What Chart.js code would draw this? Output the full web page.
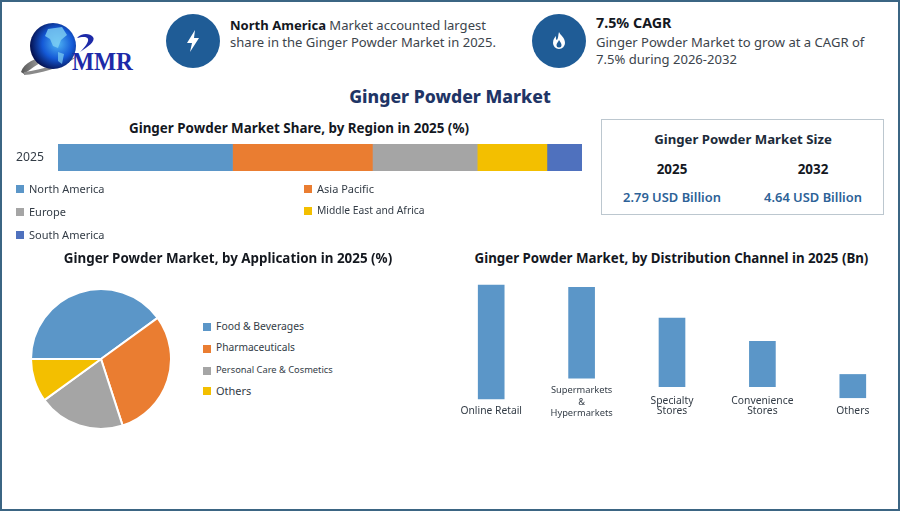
<!DOCTYPE html>
<html><head><meta charset="utf-8">
<script src="https://cdn.jsdelivr.net/npm/chart.js@4"></script>
<style>
html,body{margin:0;padding:0;background:#fff}
#page{position:relative;width:900px;height:511px;overflow:hidden;background:#fff;font-family:"Noto Sans",sans-serif;color:#333c46}
#frame{position:absolute;left:0;top:0;width:896px;height:507px;border:2px solid #3b6583;pointer-events:none}
.t{position:absolute;white-space:nowrap;line-height:1}
.c{transform:translateX(-50%)}
.b{font-weight:700;color:#14181f}
canvas{position:absolute}
.sw{position:absolute;width:8px;height:8px}
.circle{position:absolute;width:54px;height:54px;border-radius:50%;background:#1f5c96}
#box{position:absolute;left:601px;top:119px;width:281px;height:94px;border:1.5px solid #bcc7cf}
.blue{color:#2d6297;font-weight:600}
.big{font-size:13.05px;color:#3c444c;line-height:17px}
</style></head><body>
<div id="page">
<svg style="position:absolute;left:18px;top:20px" width="120" height="58" viewBox="0 0 120 58">
<defs><radialGradient id="g" cx="60%" cy="45%" r="60%"><stop offset="0" stop-color="#4fb4f4"/><stop offset=".55" stop-color="#1459d6"/><stop offset="1" stop-color="#05104e"/></radialGradient>
<linearGradient id="s" x1="0" x2="1"><stop offset="0" stop-color="#555"/><stop offset="1" stop-color="#ccc"/></linearGradient></defs>
<path d="M3 52C6 42 20 36 34 37C24 41 14 48 6 54Z" fill="url(#s)"/>
<path d="M6 55C20 54 44 48 60 36C46 42 24 50 6 52Z" fill="#8a8a8a"/>
<circle cx="35" cy="26" r="23" fill="url(#g)"/>
<path d="M30 9l14-2 5 8-6 5-3 8-5-2-3-7-5-3z" fill="#7fd0f2" opacity=".8"/>
<path d="M40 32l6 2-2 10-4-3z" fill="#7fd0f2" opacity=".7"/>
<path d="M59 18c4-5 13-5 16-1s-5 10-13 15c5-5 9-10 8-13s-7-2-11-1z" fill="#1d2aa8"/>
<text x="54" y="50" font-family="Liberation Serif" font-weight="700" font-size="25" fill="#1d2aa8" textLength="61" lengthAdjust="spacingAndGlyphs">MMR</text>
</svg>

<div class="circle" style="left:166px;top:14px"></div>
<svg style="position:absolute;left:185px;top:29px" width="16" height="24" viewBox="0 0 16 24"><path d="M10 1L2 14h5l-2 9 9-14H9z" fill="#fff"/></svg>
<div class="t big" style="left:230px;top:17px"><b style="color:#14181f">North America</b> Market accounted largest<br>share in the Ginger Powder Market in 2025.</div>

<div class="circle" style="left:532px;top:14px"></div>
<svg style="position:absolute;left:551px;top:31px" width="16" height="20" viewBox="0 0 16 20"><path d="M8 1c1 3 6 5 6 11a6 6 0 0 1-12 0c0-4 2-6 3-7-.5 3 .5 4 1 4 1.500-2 1-5 2-8z" fill="#fff"/><path d="M8 9c1 2 2.500 3 2.500 5a2.500 2.500 0 0 1-5 0c0-2 2-3 2.500-5z" fill="#1f5c96"/></svg>
<div class="t b" style="left:596px;top:16px;font-size:14.3px">7.5% CAGR</div>
<div class="t big" style="left:596px;top:34px">Ginger Powder Market to grow at a CAGR of<br>7.5% during 2026-2032</div>

<div class="t c" style="left:450px;top:88px;font-size:17.6px;font-weight:800;color:#1f3566">Ginger Powder Market</div>
<div class="t c b" style="left:299px;top:122px;font-size:13.4px">Ginger Powder Market Share, by Region in 2025 (%)</div>

<canvas id="regionChart"></canvas>
<div id="regionLegend"></div>

<div id="box"></div>
<div class="t c" style="left:743px;top:133px;font-size:13.2px;font-weight:700;color:#1c2b3a">Ginger Powder Market Size</div>
<div class="t c b" style="left:672px;top:163px;font-size:13.4px">2025</div>
<div class="t c b" style="left:813px;top:163px;font-size:13.4px">2032</div>
<div class="t c blue" style="left:672px;top:191px;font-size:12.9px">2.79 USD Billion</div>
<div class="t c blue" style="left:813px;top:191px;font-size:12.9px">4.64 USD Billion</div>

<div class="t c b" style="left:228px;top:252px;font-size:13.4px">Ginger Powder Market, by Application in 2025 (%)</div>
<canvas id="applicationChart"></canvas>
<div id="applicationLegend"></div>

<div class="t c b" style="left:671.5px;top:252px;font-size:13.3px">Ginger Powder Market, by Distribution Channel in 2025 (Bn)</div>
<canvas id="channelChart"></canvas>
<div id="frame"></div>
</div>
<script>
const regionYear = ['2025'];
const regionNames = ['North America','Asia Pacific','Europe','Middle East and Africa','South America'];
const regionShares = [33.3,26.7,20,13.3,6.7];
const regionColors = ['#5b96c8','#ea7d31','#a5a5a5','#f3bf00','#4f71be'];
const applicationNames = ['Food & Beverages','Pharmaceuticals','Personal Care & Cosmetics','Others'];
const applicationShares = [40,30,20,10];
const applicationColors = ['#5b96c8','#ea7d31','#a5a5a5','#f3bf00'];
const channelNames = [['','Online Retail'],['Supermarkets','&','Hypermarkets'],['','Specialty','Stores'],['','Convenience','Stores'],['','Others']];
const channelValues = [0.93,0.74,0.56,0.37,0.19];
const channelLift = [0,0.17,0.10,0.10,0.01];
const channelLineHeights = ['17.3px','11.500px','10.500px','10.500px','17.3px'];

Chart.defaults.animation = false;
Chart.defaults.responsive = false;
Chart.defaults.devicePixelRatio = 1;
Chart.defaults.font.family = '"Noto Sans",sans-serif';
Chart.defaults.plugins.legend.display = false;
Chart.defaults.plugins.tooltip.enabled = false;

function place(id,l,t,w,h){const c=document.getElementById(id);c.width=w;c.height=h;c.style.left=l+'px';c.style.top=t+'px';c.style.width=w+'px';c.style.height=h+'px';return c;}
function legend(id,names,colors,pos,sizes){
  const root=document.getElementById(id);
  names.forEach((n,i)=>{
    const p=pos[i];
    const s=document.createElement('div');s.className='sw';s.style.left=p[0]+'px';s.style.top=(p[1]-4)+'px';s.style.background=colors[i];root.appendChild(s);
    const t=document.createElement('div');t.className='t';t.textContent=n;t.style.left=(p[0]+13)+'px';t.style.top=(p[1]-sizes[i]/2-1)+'px';t.style.fontSize=sizes[i]+'px';root.appendChild(t);
  });
}

new Chart(place('regionChart',0,121,600,80),{
  type:'bar',
  data:{labels:regionYear,datasets:regionNames.map((n,i)=>({label:n,data:[regionShares[i]],backgroundColor:regionColors[i],barThickness:27}))},
  options:{indexAxis:'y',layout:{autoPadding:false,padding:{left:0,right:18,top:23,bottom:30}},
    scales:{
      x:{stacked:true,min:0,max:100,grid:{display:false,drawTicks:false},border:{display:false},ticks:{display:false},afterFit(a){a.height=0}},
      y:{stacked:true,grid:{display:false,drawTicks:false},border:{display:false},afterFit(a){a.width=58},ticks:{color:'#333c46',font:{size:12.2},padding:14}}
    }}
});
legend('regionLegend',regionNames,regionColors,[[16,189],[304,189],[16,212],[304,211],[16,235]],[11,11,11,10.3,11]);

new Chart(place('applicationChart',30,288,142,142),{
  type:'pie',
  data:{labels:applicationNames,datasets:[{data:applicationShares,backgroundColor:applicationColors,borderColor:'#ffffff',borderWidth:2}]},
  options:{rotation:-90}
});
legend('applicationLegend',applicationNames,applicationColors,[[203,327],[203,348.500],[203,371],[203,391]],[10.4,10.2,9.3,11]);

new Chart(place('channelChart',446,275,452,150),{
  type:'bar',
  data:{labels:channelNames,datasets:[{data:channelValues.map((v,i)=>[channelLift[i],channelLift[i]+v]),backgroundColor:'#5b96c8',barThickness:26,clip:false}]},
  options:{layout:{padding:{top:10,left:0,right:0,bottom:0}},
    scales:{
      y:{display:false,min:0.114,max:0.93},
      x:{grid:{display:false,drawTicks:false},border:{display:false},afterFit(a){a.height=40},
        ticks:{color:'#333c46',maxRotation:0,autoSkip:false,padding:0,
          font:c=>({size:c.index===1?9.3:10.3,lineHeight:channelLineHeights[c.index]})}}
    }}
});
</script>
</body></html>
